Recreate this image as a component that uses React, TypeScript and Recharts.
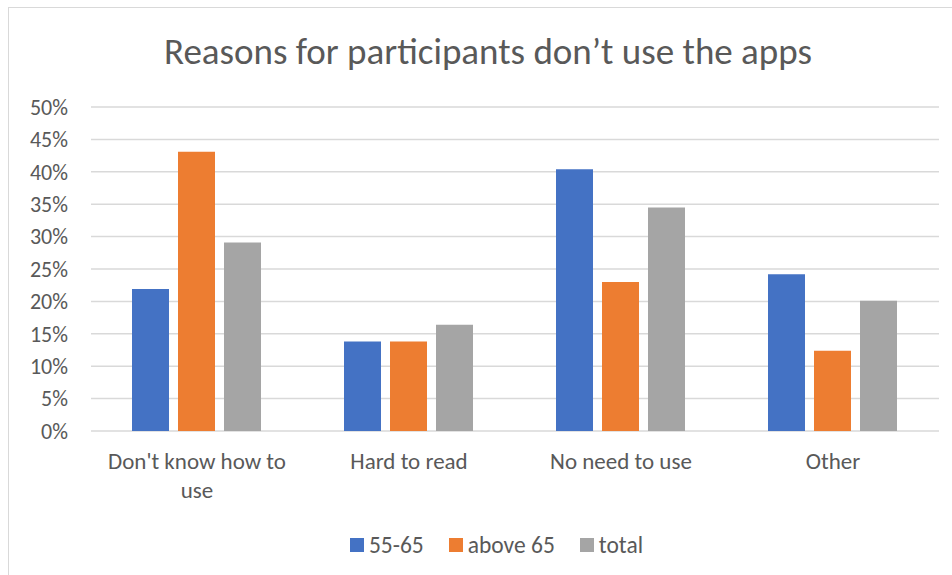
import { BarChart, Bar, XAxis, YAxis, CartesianGrid, Legend } from "recharts";

const categories = ["Don't know how to use", "Hard to read", "No need to use", "Other"];
const age55to65 = [21.9, 13.8, 40.4, 24.2];
const above65 = [43.1, 13.8, 23.0, 12.4];
const total = [29.1, 16.4, 34.5, 20.1];
const yTicks = [0, 5, 10, 15, 20, 25, 30, 35, 40, 45, 50];

const seriesNames = ["55-65", "above 65", "total"];
const colors = ["#4472C4", "#ED7D31", "#A5A5A5"];

const FONT = "Carlito, Lato, 'Open Sans', sans-serif";
const TEXT = "#595959";
const MAX_LINE_CHARS = 18;

const data = categories.map((name, i) => ({
  name,
  "55-65": age55to65[i],
  "above 65": above65[i],
  total: total[i],
}));

// greedy word wrap so long category names break like Excel does
function wrap(label: string) {
  const lines: string[] = [];
  let cur = "";
  for (const w of label.split(" ")) {
    const next = cur ? `${cur} ${w}` : w;
    if (next.length > MAX_LINE_CHARS && cur) {
      lines.push(cur);
      cur = w;
    } else {
      cur = next;
    }
  }
  if (cur) lines.push(cur);
  return lines;
}

function CategoryTick(props: any) {
  const { x, y, payload } = props;
  return (
    <text x={x} y={y} textAnchor="middle" fill={TEXT} fontSize={23} fontFamily={FONT}>
      {wrap(payload.value).map((line, i) => (
        <tspan key={i} x={x} dy={i === 0 ? 38 : 29}>
          {line}
        </tspan>
      ))}
    </text>
  );
}

function LegendBox() {
  return (
    <div
      style={{
        display: "flex",
        justifyContent: "center",
        alignItems: "center",
        gap: 25,
        fontFamily: FONT,
        fontSize: 23.5,
        color: TEXT,
        height: 40,
        paddingLeft: 54,
      }}
    >
      {seriesNames.map((s, i) => (
        <div key={s} style={{ display: "flex", alignItems: "center" }}>
          <span
            style={{ width: 14, height: 14, background: colors[i], marginRight: 5, display: "inline-block" }}
          />
          {s}
        </div>
      ))}
    </div>
  );
}

export default function App() {
  return (
    <div style={{ position: "absolute", left: 0, top: 0, width: 952, height: 575, background: "#fff", overflow: "hidden" }}>
      <div
        style={{
          position: "absolute",
          left: 8,
          top: 7,
          width: 980,
          height: 600,
          border: "1px solid #d9d9d9",
        }}
      />
      <div
        style={{
          position: "absolute",
          left: 0,
          top: 30,
          width: 976,
          textAlign: "center",
          fontFamily: FONT,
          fontSize: 37,
          color: TEXT,
          lineHeight: "44px",
        }}
      >
        Reasons for participants don’t use the apps
      </div>
      <div style={{ position: "absolute", left: 0, top: 0 }}>
        <BarChart
          width={952}
          height={575}
          data={data}
          margin={{ top: 107, right: 13, left: 0, bottom: 10 }}
          barCategoryGap={41}
          barGap={9}
        >
          <CartesianGrid vertical={false} stroke="#d9d9d9" strokeWidth={1.5} />
          <XAxis
            dataKey="name"
            axisLine={false}
            tickLine={false}
            tickSize={0}
            tickMargin={0}
            height={94}
            interval={0}
            tick={<CategoryTick />}
          />
          <YAxis
            width={91}
            domain={[0, 50]}
            ticks={yTicks}
            axisLine={false}
            tickLine={false}
            tickMargin={17}
            tickFormatter={(v: number) => `${v}%`}
            tick={{ fill: TEXT, fontSize: 22, fontFamily: FONT }}
          />
          <Legend verticalAlign="bottom" height={40} content={<LegendBox />} />
          {seriesNames.map((s, i) => (
            <Bar key={s} dataKey={s} fill={colors[i]} isAnimationActive={false} />
          ))}
        </BarChart>
      </div>
    </div>
  );
}
